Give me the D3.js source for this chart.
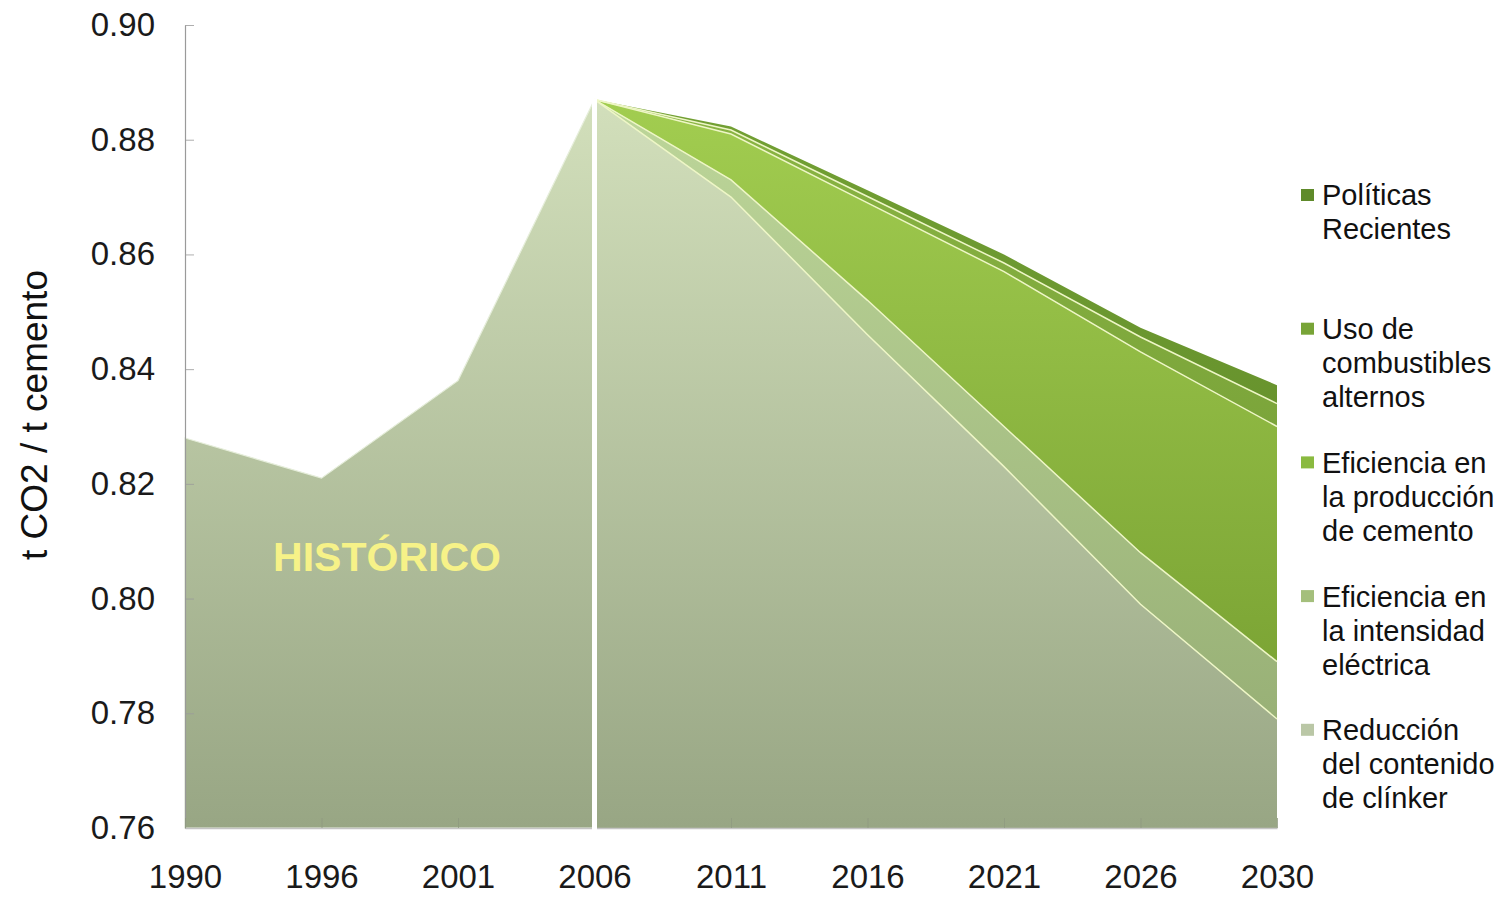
<!DOCTYPE html>
<html>
<head>
<meta charset="utf-8">
<script src="https://cdn.jsdelivr.net/npm/d3@7"></script>
<style>
  html, body { margin: 0; padding: 0; background: #ffffff; }
  svg { display: block; }
  text { font-family: "Liberation Sans", Arial, sans-serif; }
</style>
</head>
<body>
<svg id="chart" width="1505" height="897"></svg>
<script>
// Category axis (all years shown)
const years = ["1990", "1996", "2001", "2006", "2011", "2016", "2021", "2026", "2030"];
const yTicks = [0.76, 0.78, 0.80, 0.82, 0.84, 0.86, 0.88, 0.90];

// Historical intensity, 1990–2006
const historicYears = ["1990", "1996", "2001", "2006"];
const historico = [0.828, 0.821, 0.838, 0.887];

// Projection 2006–2030: base level plus stacked reductions
const projYears = ["2006", "2011", "2016", "2021", "2026", "2030"];
const clinker = [0.887, 0.870, 0.846, 0.823, 0.799, 0.779];
const intensidadElectrica = [0, 0.003, 0.006, 0.007, 0.009, 0.010];
const produccionCemento = [0, 0.008, 0.017, 0.027, 0.035, 0.041];
const combustibles = [0, 0.0007, 0.0011, 0.0015, 0.0026, 0.0040];
const politicas = [0, 0.0006, 0.0011, 0.0015, 0.0016, 0.0032];

const seriesKeys = ["clinker", "electrica", "cemento", "combustibles", "politicas"];
const seriesValues = [clinker, intensidadElectrica, produccionCemento, combustibles, politicas];
const legendLabels = {
  politicas: ["Políticas", "Recientes"],
  combustibles: ["Uso de", "combustibles", "alternos"],
  cemento: ["Eficiencia en", "la producción", "de cemento"],
  electrica: ["Eficiencia en", "la intensidad", "eléctrica"],
  clinker: ["Reducción", "del contenido", "de clínker"]
};

const svg = d3.select("#chart");
const plotLeft = 185, plotRight = 1277, plotTop = 25, plotBottom = 828;

const x = d3.scalePoint().domain(years).range([plotLeft, plotRight]);
const y = d3.scaleLinear().domain([0.76, 0.90]).range([plotBottom, plotTop]).clamp(true);

// Vertical gradients for each layer
const defs = svg.append("defs");
const gradients = {
  historico: ["#d2dfbb", "#98a684"],
  clinker: ["#d2dfbb", "#98a684"],
  electrica: ["#bdd69a", "#92aa70"],
  cemento: ["#a2cd50", "#71992d"],
  combustibles: ["#8ab543", "#6a9130"],
  politicas: ["#72a033", "#5a8226"]
};
Object.entries(gradients).forEach(([k, [c0, c1]]) => {
  const g = defs.append("linearGradient")
    .attr("id", "grad-" + k)
    .attr("gradientUnits", "userSpaceOnUse")
    .attr("x1", 0).attr("y1", 100).attr("x2", 0).attr("y2", plotBottom);
  g.append("stop").attr("offset", "0%").attr("stop-color", c0);
  g.append("stop").attr("offset", "100%").attr("stop-color", c1);
});

// Historical area
const histData = historicYears.map((yr, i) => ({ year: yr, v: historico[i] }));
svg.append("path")
  .datum(histData)
  .attr("fill", "url(#grad-historico)")
  .attr("stroke", "#e6eedb")
  .attr("stroke-width", 1.2)
  .attr("d", d3.area()
    .x(d => x(d.year))
    .y0(plotBottom)
    .y1(d => y(d.v)));

// Stacked projection
const projRows = projYears.map((yr, i) => {
  const row = { year: yr };
  seriesKeys.forEach((k, j) => { row[k] = seriesValues[j][i]; });
  return row;
});
const stacked = d3.stack().keys(seriesKeys)(projRows);

const area = d3.area()
  .x(d => x(d.data.year))
  .y0(d => y(d[0]))
  .y1(d => y(d[1]));
const line = d3.line()
  .x(d => x(d.data.year))
  .y(d => y(d[1]));

svg.append("g").selectAll("path")
  .data(stacked)
  .join("path")
  .attr("fill", d => "url(#grad-" + d.key + ")")
  .attr("d", area);

svg.append("g").selectAll("path")
  .data(stacked.slice(0, 4))
  .join("path")
  .attr("fill", "none")
  .attr("stroke", "#eef6c6")
  .attr("stroke-width", 1.5)
  .attr("d", line);

// Axes
const yAxis = d3.axisLeft(y)
  .tickValues(yTicks)
  .tickFormat(d3.format(".2f"))
  .tickSizeInner(-9)
  .tickSizeOuter(0)
  .tickPadding(30);
const gy = svg.append("g").attr("transform", `translate(${plotLeft},0)`).call(yAxis);
gy.select(".domain").attr("stroke", "#9a9a9a").attr("stroke-width", 1.2);
gy.selectAll(".tick line").attr("stroke", "#9a9a9a").attr("stroke-opacity", 0.8);
gy.selectAll(".tick text")
  .attr("font-size", 33)
  .attr("fill", "#1a1a1a")
  .attr("font-family", "'Liberation Sans', Arial, sans-serif");

const xAxis = d3.axisBottom(x)
  .tickSizeInner(-10)
  .tickSizeOuter(0)
  .tickPadding(37);
const gx = svg.append("g").attr("transform", `translate(0,${plotBottom})`).call(xAxis);
gx.select(".domain").attr("stroke", "#c4c4c4").attr("stroke-width", 1.5);
gx.selectAll(".tick line").attr("stroke", "#8f9a80").attr("stroke-opacity", 0.8);
gx.selectAll(".tick text")
  .attr("font-size", 33)
  .attr("fill", "#1a1a1a")
  .attr("font-family", "'Liberation Sans', Arial, sans-serif");

// White separator between historical and projected periods
svg.append("line")
  .attr("x1", x("2006")).attr("x2", x("2006"))
  .attr("y1", y(historico[historico.length - 1]) - 1)
  .attr("y2", plotBottom + 4)
  .attr("stroke", "#ffffff")
  .attr("stroke-width", 5);

// Period label
svg.append("text")
  .attr("x", 387).attr("y", 571)
  .attr("text-anchor", "middle")
  .attr("font-size", 41)
  .attr("font-weight", "bold")
  .attr("fill", "#f6f288")
  .text("HISTÓRICO");

// Y axis title
svg.append("text")
  .attr("transform", "translate(47,415) rotate(-90)")
  .attr("text-anchor", "middle")
  .attr("font-size", 37)
  .attr("fill", "#111")
  .text("t CO2 / t cemento");

// Legend
const legendColors = {
  politicas: "#5f8a2a",
  combustibles: "#78a437",
  cemento: "#8aba40",
  electrica: "#a4bf7c",
  clinker: "#bac7a6"
};
const legendOrder = seriesKeys.slice().reverse();
const legend = svg.append("g");
legendOrder.forEach((k, i) => {
  const cy = 195 + i * 133.7;
  const g = legend.append("g").attr("transform", `translate(1301,${cy})`);
  g.append("rect")
    .attr("x", 0).attr("y", -6)
    .attr("width", 13).attr("height", 12)
    .attr("fill", legendColors[k]);
  legendLabels[k].forEach((t, j) => {
    g.append("text")
      .attr("x", 21).attr("y", j * 34)
      .attr("dy", "0.36em")
      .attr("font-size", 29)
      .attr("fill", "#111")
      .text(t);
  });
});
</script>
</body>
</html>
